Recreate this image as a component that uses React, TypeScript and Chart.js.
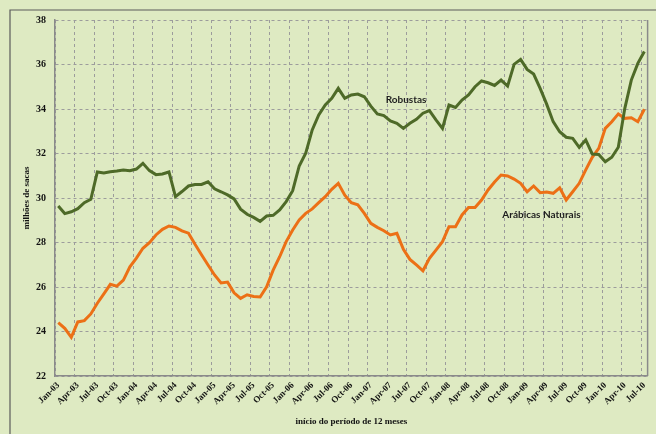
import { useEffect, useRef } from 'react';
import { Chart, registerables } from 'chart.js';

Chart.register(...registerables);

const categories: string[] = [
  'Jan-03','Feb-03','Mar-03','Apr-03','May-03','Jun-03','Jul-03','Aug-03','Sep-03','Oct-03','Nov-03','Dec-03',
  'Jan-04','Feb-04','Mar-04','Apr-04','May-04','Jun-04','Jul-04','Aug-04','Sep-04','Oct-04','Nov-04','Dec-04',
  'Jan-05','Feb-05','Mar-05','Apr-05','May-05','Jun-05','Jul-05','Aug-05','Sep-05','Oct-05','Nov-05','Dec-05',
  'Jan-06','Feb-06','Mar-06','Apr-06','May-06','Jun-06','Jul-06','Aug-06','Sep-06','Oct-06','Nov-06','Dec-06',
  'Jan-07','Feb-07','Mar-07','Apr-07','May-07','Jun-07','Jul-07','Aug-07','Sep-07','Oct-07','Nov-07','Dec-07',
  'Jan-08','Feb-08','Mar-08','Apr-08','May-08','Jun-08','Jul-08','Aug-08','Sep-08','Oct-08','Nov-08','Dec-08',
  'Jan-09','Feb-09','Mar-09','Apr-09','May-09','Jun-09','Jul-09','Aug-09','Sep-09','Oct-09','Nov-09','Dec-09',
  'Jan-10','Feb-10','Mar-10','Apr-10','May-10','Jun-10','Jul-10',
];

const tickLabels: string[] = [
  'Jan-03','Apr-03','Jul-03','Oct-03','Jan-04','Apr-04','Jul-04','Oct-04',
  'Jan-05','Apr-05','Jul-05','Oct-05','Jan-06','Apr-06','Jul-06','Oct-06',
  'Jan-07','Apr-07','Jul-07','Oct-07','Jan-08','Apr-08','Jul-08','Oct-08',
  'Jan-09','Apr-09','Jul-09','Oct-09','Jan-10','Apr-10','Jul-10',
];

const robustas: number[] = [
  29.64, 29.30, 29.38, 29.52, 29.79, 29.94, 31.17, 31.12, 31.18, 31.21, 31.26, 31.23,
  31.30, 31.56, 31.23, 31.05, 31.08, 31.17, 30.06, 30.29, 30.54, 30.61, 30.61, 30.73,
  30.41, 30.28, 30.14, 29.96, 29.50, 29.27, 29.13, 28.95, 29.19, 29.22, 29.46, 29.84,
  30.33, 31.44, 32.01, 33.06, 33.73, 34.18, 34.48, 34.93, 34.48, 34.63, 34.67, 34.55,
  34.13, 33.78, 33.70, 33.46, 33.36, 33.13, 33.36, 33.54, 33.81, 33.93, 33.51, 33.13,
  34.18, 34.07, 34.40, 34.63, 35.00, 35.26, 35.18, 35.06, 35.30, 35.03, 36.01, 36.23,
  35.78, 35.57, 34.93, 34.22, 33.43, 32.98, 32.73, 32.68, 32.28, 32.61, 31.98, 31.96,
  31.63, 31.83, 32.28, 34.03, 35.30, 36.05, 36.58,
];

const arabicasNaturais: number[] = [
  24.40, 24.14, 23.74, 24.43, 24.49, 24.79, 25.27, 25.69, 26.12, 26.04, 26.31, 26.91,
  27.30, 27.74, 27.99, 28.34, 28.59, 28.74, 28.68, 28.52, 28.42, 27.92, 27.45, 26.99,
  26.54, 26.18, 26.22, 25.74, 25.49, 25.65, 25.57, 25.55, 26.01, 26.76, 27.36, 28.04,
  28.56, 29.01, 29.31, 29.51, 29.79, 30.06, 30.39, 30.66, 30.13, 29.79, 29.69, 29.31,
  28.86, 28.68, 28.53, 28.34, 28.41, 27.69, 27.24, 26.99, 26.73, 27.29, 27.66, 28.04,
  28.71, 28.71, 29.24, 29.57, 29.57, 29.91, 30.36, 30.72, 31.03, 30.99, 30.85, 30.66,
  30.28, 30.54, 30.24, 30.27, 30.21, 30.46, 29.91, 30.28, 30.66, 31.26, 31.83, 32.23,
  33.13, 33.43, 33.78, 33.58, 33.61, 33.43, 33.99,
];

const seriesNames = ['Robustas', 'Arábicas Naturais'];
const yTitle = 'milhões de sacas';
const xTitle = 'início do período de 12 meses';

const BG = '#deeac2';
const GREEN = '#4e6a28';
const ORANGE = '#ec7016';
const GRID = '#9c9c9c';
const AXIS = '#8a8a8a';
const SERIF = '"Liberation Serif", "Times New Roman", serif';
const SANS = 'Lato, "Open Sans", sans-serif';

const decorPlugin = {
  id: 'decor',
  afterDraw(chart: any) {
    const { ctx, chartArea, scales } = chart;
    const W = chart.width;
    const H = chart.height;
    ctx.save();
    // outer frame (top & left visible)
    ctx.strokeStyle = '#5a5a5a';
    ctx.lineWidth = 1.2;
    ctx.beginPath();
    ctx.moveTo(10, H + 2);
    ctx.lineTo(10, 10);
    ctx.lineTo(W + 2, 10);
    ctx.stroke();
    // right plot border
    ctx.strokeStyle = AXIS;
    ctx.lineWidth = 1.5;
    ctx.beginPath();
    ctx.moveTo(chartArea.right, chartArea.top);
    ctx.lineTo(chartArea.right, chartArea.bottom);
    ctx.stroke();
    // axis titles
    ctx.fillStyle = '#111';
    ctx.font = `bold 9px ${SERIF}`;
    ctx.textAlign = 'center';
    ctx.textBaseline = 'middle';
    ctx.fillText(xTitle, (chartArea.left + chartArea.right) / 2, 422);
    ctx.save();
    ctx.translate(27, (chartArea.top + chartArea.bottom) / 2);
    ctx.rotate(-Math.PI / 2);
    ctx.fillText(yTitle, 0, 0);
    ctx.restore();
    // series annotations
    const x = scales.x;
    const y = scales.y;
    ctx.fillStyle = '#1e1e1e';
    ctx.font = `bold 10px ${SANS}`;
    ctx.fillText(seriesNames[0], x.getPixelForValue(53.4), y.getPixelForValue(34.4));
    ctx.fillText(seriesNames[1], x.getPixelForValue(74.2), y.getPixelForValue(29.24));
    ctx.restore();
  },
};

export default function App() {
  const canvasRef = useRef<HTMLCanvasElement | null>(null);

  useEffect(() => {
    if (!canvasRef.current) return;
    const chart = new Chart(canvasRef.current, {
      type: 'line',
      data: {
        labels: categories,
        datasets: [
          {
            label: seriesNames[0],
            data: robustas,
            borderColor: GREEN,
            backgroundColor: GREEN,
            borderWidth: 3,
            pointRadius: 0,
            tension: 0,
            order: 0,
          },
          {
            label: seriesNames[1],
            data: arabicasNaturais,
            borderColor: ORANGE,
            backgroundColor: ORANGE,
            borderWidth: 3,
            pointRadius: 0,
            tension: 0,
            order: 1,
          },
        ],
      },
      options: {
        responsive: false,
        animation: false,
        layout: { padding: { left: 0, top: 20, right: 4, bottom: 0 } },
        plugins: {
          legend: { display: false },
          tooltip: { enabled: false },
        },
        scales: {
          x: {
            type: 'category',
            offset: true,
            afterFit: (s: any) => { s.height = 58; },
            grid: {
              offset: true,
              drawTicks: false,
              lineWidth: 1,
              color: (c: any) => (c.index % 3 === 0 ? GRID : 'rgba(0,0,0,0)'),
            },
            border: { display: true, color: AXIS, width: 1.5, dash: [3, 3] },
            ticks: {
              autoSkip: false,
              minRotation: 45,
              maxRotation: 45,
              padding: 4,
              color: '#111',
              font: { family: SERIF, size: 9, weight: 'bold' },
              callback: (_v: any, i: number) => {
                const lab = categories[i];
                return tickLabels.includes(lab) ? lab : '';
              },
            },
          },
          y: {
            min: 22,
            max: 38,
            afterFit: (s: any) => { s.width = 55; },
            grid: { drawTicks: false, color: GRID, lineWidth: 1 },
            border: { display: true, color: AXIS, width: 1.5, dash: [3, 3] },
            ticks: {
              stepSize: 2,
              padding: 9,
              color: '#111',
              font: { family: SERIF, size: 10, weight: 'bold' },
            },
          },
        },
      },
      plugins: [decorPlugin],
    });
    return () => chart.destroy();
  }, []);

  return (
    <div style={{ position: 'fixed', left: 0, top: 0, width: 656, height: 434, background: BG, overflow: 'hidden' }}>
      <canvas ref={canvasRef} width={656} height={434} style={{ display: 'block' }} />
    </div>
  );
}
